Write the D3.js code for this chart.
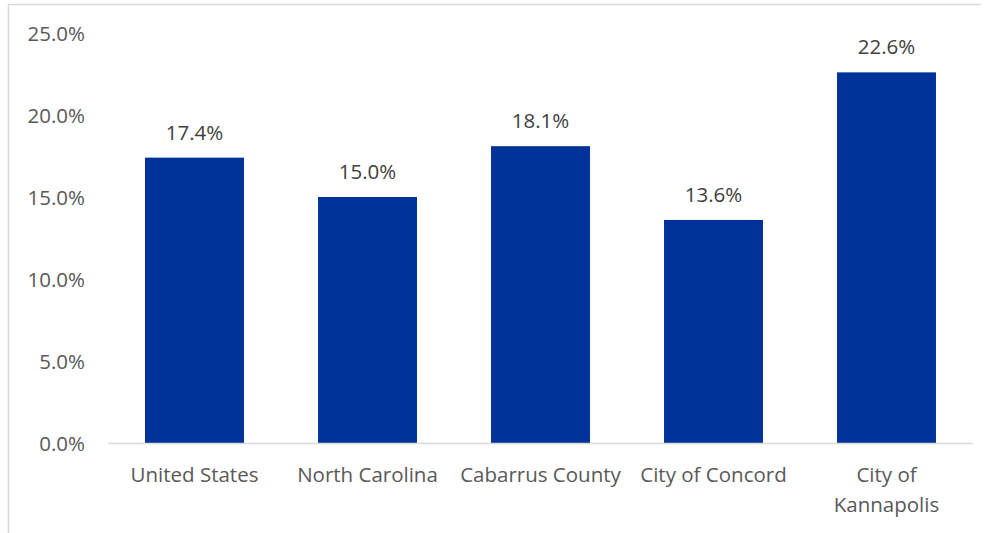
<!DOCTYPE html>
<html>
<head>
<meta charset="utf-8">
<script src="https://cdn.jsdelivr.net/npm/d3@7"></script>
<style>
  html, body { margin: 0; padding: 0; background: #ffffff; }
  svg { display: block; font-family: "Open Sans", "Noto Sans", sans-serif; }
</style>
</head>
<body>
<svg id="chart" width="989" height="533"></svg>
<script>
// Share of population by place
const categories = ["United States", "North Carolina", "Cabarrus County", "City of Concord", "City of Kannapolis"];
const values = [17.4, 15.0, 18.1, 13.6, 22.6];
const yTicks = [0, 5, 10, 15, 20, 25];

const svg = d3.select("#chart");
const W = 989, H = 533;
const plot = { left: 108, right: 973, top: 33, bottom: 443 };
const FS = "20.5px";

// frame around the chart area
svg.append("line").attr("x1", 8.5).attr("x2", 8.5).attr("y1", 4.5).attr("y2", H)
  .attr("stroke", "#d9d9d9").attr("stroke-width", 1.5);
svg.append("line").attr("x1", 8).attr("x2", 981).attr("y1", 4.5).attr("y2", 4.5)
  .attr("stroke", "#d9d9d9").attr("stroke-width", 1.5);

const x = d3.scaleBand().domain(categories).range([plot.left, plot.right])
  .paddingInner(0.428).paddingOuter(0.214);
const y = d3.scaleLinear().domain([0, 25]).range([plot.bottom, plot.top]);

// y axis labels
const yAxis = d3.axisLeft(y).tickValues(yTicks).tickSize(0).tickPadding(0)
  .tickFormat(d => d.toFixed(1) + "%");
const gy = svg.append("g").attr("transform", "translate(85,0)").call(yAxis);
gy.select(".domain").remove();
gy.selectAll("text").attr("fill", "#595959").attr("dy", "0.35em").style("font-size", FS)
  .style("font-family", "'Open Sans', sans-serif");

// bars
svg.append("g").selectAll("rect").data(values).join("rect")
  .attr("x", (d, i) => x(categories[i]))
  .attr("y", d => y(d))
  .attr("width", x.bandwidth())
  .attr("height", d => y(0) - y(d))
  .attr("fill", "#003399");

// baseline
svg.append("line").attr("x1", plot.left).attr("x2", plot.right)
  .attr("y1", plot.bottom + 0.5).attr("y2", plot.bottom + 0.5)
  .attr("stroke", "#d9d9d9").attr("stroke-width", 1.5);

// value labels
svg.append("g").selectAll("text").data(values).join("text")
  .attr("x", (d, i) => x(categories[i]) + x.bandwidth() / 2)
  .attr("y", d => y(d) - 18)
  .attr("text-anchor", "middle")
  .attr("fill", "#404040")
  .style("font-size", FS)
  .text(d => d.toFixed(1) + "%");

// category labels (wrapped where too wide)
const xAxis = d3.axisBottom(x).tickSize(0).tickPadding(0);
const gx = svg.append("g").attr("transform", `translate(0,${plot.bottom})`).call(xAxis);
gx.select(".domain").remove();
gx.selectAll("text").each(function (d) {
  const t = d3.select(this);
  t.text(null).attr("y", 0).attr("dy", null)
    .attr("fill", "#595959").style("font-size", FS)
    .style("font-family", "'Open Sans', sans-serif");
  const lines = d === "City of Kannapolis" ? ["City of", "Kannapolis"] : [d];
  lines.forEach((ln, i) => {
    t.append("tspan").attr("x", 0).attr("y", 39 + i * 30).text(ln);
  });
});
</script>
</body>
</html>
